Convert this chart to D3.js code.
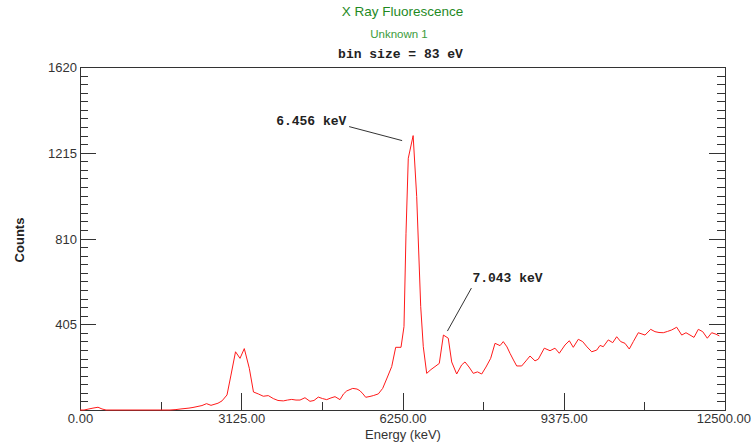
<!DOCTYPE html>
<html>
<head>
<meta charset="utf-8">
<script src="https://cdn.jsdelivr.net/npm/d3@7/dist/d3.min.js"></script>
<style>
  html, body { margin: 0; padding: 0; background: #fff; }
  svg { display: block; }
  .tick text { font-family: "Liberation Sans", Arial, sans-serif; font-size: 13px; fill: #333; }
</style>
</head>
<body>
<svg id="chart" width="751" height="446"></svg>
<script>
// Spectrum vertices: energy (eV) and counts per 83 eV bin
const energyEv = [
  0, 78, 174, 252, 349, 426, 504, 1744, 1860, 1957, 2035, 2112, 2190, 2287, 2364,
  2452, 2539, 2674, 2752, 2849, 2926, 3014, 3101, 3184, 3281, 3362, 3455, 3552,
  3649, 3746, 3837, 3940, 4021, 4103, 4186, 4264, 4360, 4457, 4535, 4618, 4700,
  4781, 4864, 4942, 5039, 5107, 5169, 5285, 5368, 5426, 5484, 5537, 5620, 5684,
  5781, 5866, 5950, 6041, 6118, 6221, 6279, 6318, 6362, 6456, 6525, 6603, 6653,
  6719, 6802, 6880, 6963, 7043, 7137, 7203, 7300, 7397, 7461, 7539, 7622, 7703,
  7785, 7868, 7959, 8043, 8140, 8203, 8275, 8333, 8401, 8463, 8560, 8643, 8721,
  8818, 8882, 8998, 9109, 9205, 9289, 9399, 9483, 9560, 9657, 9742, 9826, 9917,
  10014, 10078, 10141, 10238, 10324, 10401, 10479, 10562, 10645, 10723, 10820,
  10950, 11060, 11143, 11221, 11304, 11385, 11467, 11564, 11661, 11744, 11822,
  11899, 11983, 12068, 12157, 12242, 12326, 12390
];
const counts = [
  0, 0, 5, 9, 13, 5, 0, 0, 2, 5, 7, 9, 12, 17, 21,
  30, 22, 32, 43, 71, 165, 275, 244, 290, 197, 85, 76, 65,
  68, 54, 45, 43, 47, 50, 47, 47, 58, 41, 45, 61, 54,
  49, 57, 63, 49, 76, 90, 102, 99, 91, 76, 60, 64, 68,
  76, 102, 151, 205, 296, 296, 394, 835, 1189, 1296, 1008, 488, 299,
  173, 191, 205, 220, 354, 339, 227, 170, 213, 227, 203, 173, 180,
  170, 203, 244, 315, 304, 323, 298, 268, 236, 208, 208, 232, 255,
  232, 240, 292, 280, 292, 268, 307, 327, 296, 334, 323, 298, 275,
  283, 305, 299, 331, 318, 346, 323, 315, 288, 323, 365,
  354, 381, 370, 366, 365, 371, 378, 391, 354, 365, 354,
  343, 381, 370, 339, 365, 358, 350
];

// Axis tick values and labels
const xMajorTicks = [0, 3125, 6250, 9375, 12500];
const xMinorTicks = [1562.5, 4687.5, 7812.5, 10937.5];
const yMajorTicks = [0, 405, 810, 1215, 1620];
const yMinorStep = 40.5;

// Peak annotations
const peakLabels = ["6.456 keV", "7.043 keV"];
const peakEnergies = [6456, 7043];

const titleText = "X Ray Fluorescence";
const subtitleText = "Unknown 1";
const binText = "bin size = 83 eV";
const xAxisTitle = "Energy (keV)";
const yAxisTitle = "Counts";

const svg = d3.select("#chart");
const plot = { left: 80, right: 725, top: 67, bottom: 410 };

const x = d3.scaleLinear().domain([0, 12500]).range([plot.left, plot.right]);
const y = d3.scaleLinear().domain([0, 1620]).range([plot.bottom, plot.top]);

const yMinorTicks = d3.range(0, 1620 + 1e-6, yMinorStep)
  .filter(v => !yMajorTicks.some(m => Math.abs(m - v) < 1e-6));

const axisColor = "#333";

function styleAxis(g) {
  g.selectAll(".domain").remove();
  g.selectAll(".tick line").attr("stroke", axisColor).attr("shape-rendering", "crispEdges");
}

// Bottom axis: major labelled ticks and minor ticks, pointing inward
svg.append("g")
  .attr("transform", `translate(0,${plot.bottom})`)
  .call(d3.axisBottom(x).tickValues(xMajorTicks).tickSize(-17)
    .tickFormat(d3.format(".2f")))
  .call(styleAxis)
  .call(g => g.selectAll(".tick text").attr("y", 12.5).attr("dy", 0))
  // keep the last label inside the page edge
  .call(g => g.selectAll(".tick text").filter(d => d === 12500)
    .attr("text-anchor", "end").attr("x", 25.5));

svg.append("g")
  .attr("transform", `translate(0,${plot.bottom})`)
  .call(d3.axisBottom(x).tickValues(xMinorTicks).tickSize(-8).tickFormat(""))
  .call(styleAxis);

// Left axis
svg.append("g")
  .attr("transform", `translate(${plot.left},0)`)
  .call(d3.axisLeft(y).tickValues(yMajorTicks).tickSize(-16)
    .tickFormat(d => d === 0 ? "" : d3.format("d")(d)))
  .call(styleAxis)
  .call(g => g.selectAll(".tick text").attr("x", -3).attr("dy", "0.36em"));

svg.append("g")
  .attr("transform", `translate(${plot.left},0)`)
  .call(d3.axisLeft(y).tickValues(yMinorTicks).tickSize(-8).tickFormat(""))
  .call(styleAxis);

// Right axis (ticks only)
svg.append("g")
  .attr("transform", `translate(${plot.right},0)`)
  .call(d3.axisRight(y).tickValues(yMajorTicks).tickSize(-16).tickFormat(""))
  .call(styleAxis);

svg.append("g")
  .attr("transform", `translate(${plot.right},0)`)
  .call(d3.axisRight(y).tickValues(yMinorTicks).tickSize(-8).tickFormat(""))
  .call(styleAxis);

// Plot frame
svg.append("rect")
  .attr("x", plot.left + 0.5).attr("y", plot.top + 0.5)
  .attr("width", plot.right - plot.left).attr("height", plot.bottom - plot.top)
  .attr("fill", "none").attr("stroke", axisColor).attr("stroke-width", 1);

// Spectrum line
const pts = energyEv.map((e, i) => [e, counts[i]]);
svg.append("path")
  .datum(pts)
  .attr("fill", "none")
  .attr("stroke", "#ff1a1a")
  .attr("stroke-width", 1)
  .attr("d", d3.line().x(d => x(d[0])).y(d => y(d[1])));

// Titles
svg.append("text")
  .attr("x", 402.5).attr("y", 16)
  .attr("text-anchor", "middle")
  .attr("font-family", "Liberation Sans, Arial, sans-serif")
  .attr("font-size", 13.5)
  .attr("fill", "#1f8a1f")
  .text(titleText);

svg.append("text")
  .attr("x", 399).attr("y", 38)
  .attr("text-anchor", "middle")
  .attr("font-family", "Liberation Sans, Arial, sans-serif")
  .attr("font-size", 11.5)
  .attr("fill", "#3c9c3c")
  .text(subtitleText);

svg.append("text")
  .attr("x", 400.5).attr("y", 57.5)
  .attr("text-anchor", "middle")
  .attr("font-family", "Liberation Mono, Courier New, monospace")
  .attr("font-weight", "bold")
  .attr("font-size", 13)
  .attr("fill", "#222")
  .text(binText);

// Axis titles
svg.append("text")
  .attr("x", 403).attr("y", 438.5)
  .attr("text-anchor", "middle")
  .attr("font-family", "Liberation Sans, Arial, sans-serif")
  .attr("font-size", 13)
  .attr("fill", "#333")
  .text(xAxisTitle);

svg.append("text")
  .attr("transform", "translate(24,240) rotate(-90)")
  .attr("text-anchor", "middle")
  .attr("font-family", "Liberation Sans, Arial, sans-serif")
  .attr("font-weight", "bold")
  .attr("font-size", 13)
  .attr("fill", "#222")
  .text(yAxisTitle);

// Peak annotations: label placement offsets relative to the peak vertex
const peakCounts = peakEnergies.map(e => counts[energyEv.indexOf(e)]);
const annot = [
  { tx: -137, ty: -11, lx1: -64, ly1: -9, lx2: -11, ly2: 5 },
  { tx: 29, ty: -53, lx1: 28, ly1: -47, lx2: 4, ly2: -4 }
];
peakLabels.forEach((lab, i) => {
  const px = x(peakEnergies[i]), py = y(peakCounts[i]);
  const a = annot[i];
  svg.append("line")
    .attr("x1", px + a.lx1).attr("y1", py + a.ly1)
    .attr("x2", px + a.lx2).attr("y2", py + a.ly2)
    .attr("stroke", "#333").attr("stroke-width", 1);
  svg.append("text")
    .attr("x", px + a.tx).attr("y", py + a.ty)
    .attr("font-family", "Liberation Mono, Courier New, monospace")
    .attr("font-weight", "bold")
    .attr("font-size", 13)
    .attr("fill", "#222")
    .text(lab);
});
</script>
</body>
</html>
